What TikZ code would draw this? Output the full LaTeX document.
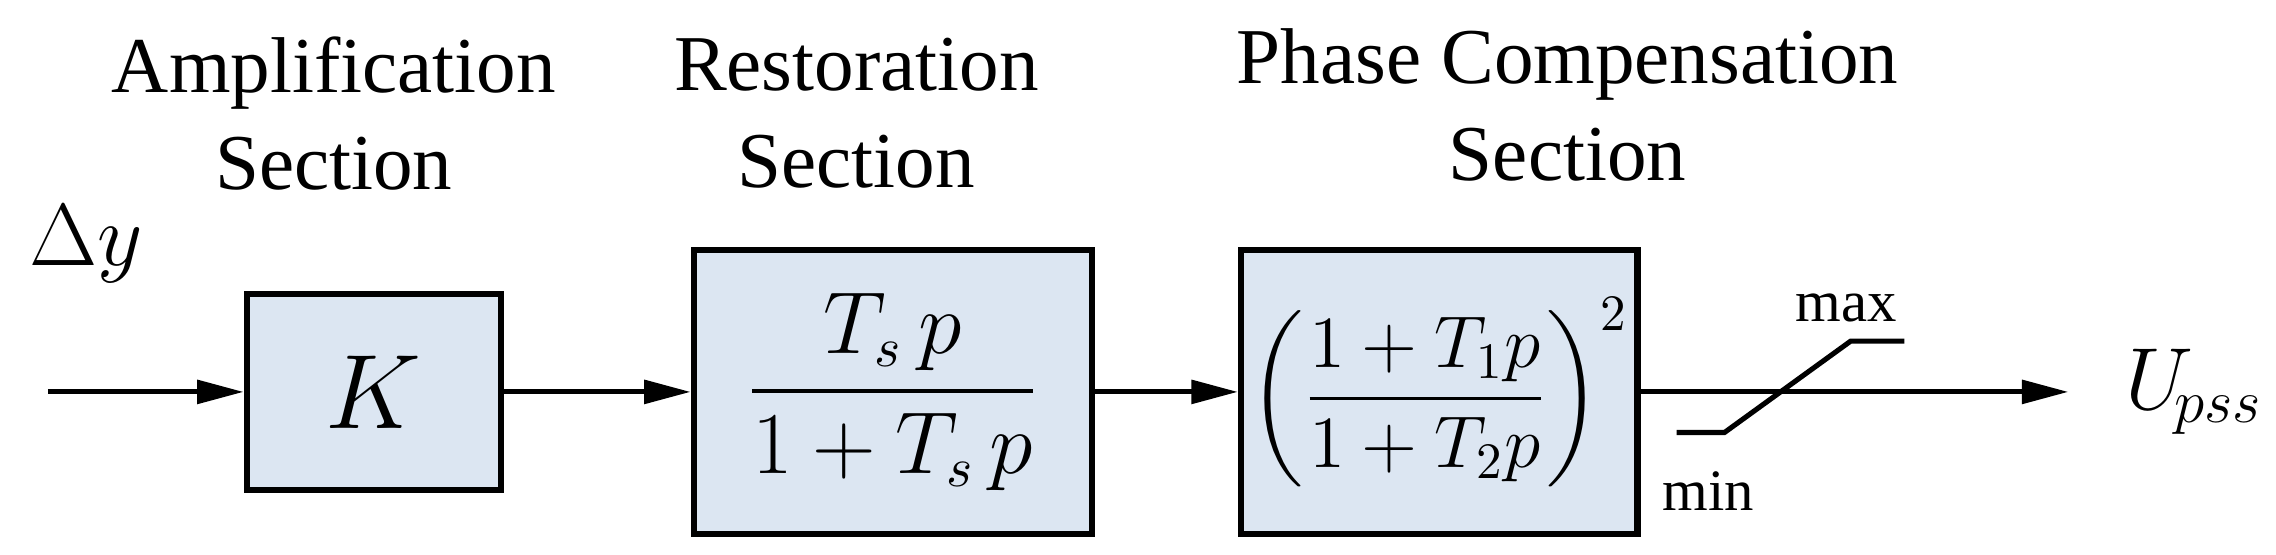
\documentclass[tikz,border=0pt]{standalone}
\usepackage{fontspec}
\setmainfont{Liberation Serif}
\usepackage{amsmath}
\usetikzlibrary{arrows.meta}
\definecolor{boxfill}{RGB}{220,230,242}
\begin{document}
\begin{tikzpicture}[x=0.01cm,y=-0.01cm,
  blk/.style={draw,line width=1.2pt,fill=boxfill,inner sep=0pt},
  sig/.style={line width=1pt,-{Triangle[length=0.32cm,width=0.16cm]}},
  ttl/.style={font=\fontsize{15.5}{19}\selectfont,align=center}]
\useasboundingbox (0,0) rectangle (1568,382);
\node[blk,minimum width=1.75cm,minimum height=1.35cm] (k) at (257.5,270) {\fontsize{22}{22}\selectfont$K$};
\node[blk,minimum width=2.74cm,minimum height=1.96cm] (r) at (615,270)
  {\fontsize{16}{19}\selectfont$\dfrac{T_s\,p}{1+T_s\,p}$};
\node[blk,minimum width=2.73cm,minimum height=1.96cm] (c) at (991.5,270)
  {\fontsize{14}{17}\selectfont$\left(\dfrac{1+T_1p}{1+T_2p}\right)^{2}$};
\coordinate (in) at (33,270);
\coordinate (out) at (1425,270);
\node[font=\fontsize{19}{21}\selectfont,anchor=west] (dy) at (8,168) {$\Delta y$};
\node[font=\fontsize{17}{19}\selectfont,anchor=west] (u) at (1452,270) {$U_{\!pss}$};
\draw[sig] (in) -- (k.west);
\draw[sig] (k.east) -- (r.west);
\draw[sig] (r.east) -- (c.west);
\draw[sig] (c.east) -- (out);
\draw[line width=1pt] (1155,298) -- (1188,298) -- (1275,235) -- (1312,235);
\node[font=\fontsize{11.5}{13}\selectfont] (mx) at (1272,212) {max};
\node[font=\fontsize{11.5}{13}\selectfont] (mn) at (1177,338) {min};
\node[ttl] (t1) at (230,78) {Amplification\\Section};
\node[ttl] (t2) at (590,78) {Restoration\\Section};
\node[ttl] (t3) at (1080,72) {Phase Compensation\\Section};
\end{tikzpicture}
\end{document}
